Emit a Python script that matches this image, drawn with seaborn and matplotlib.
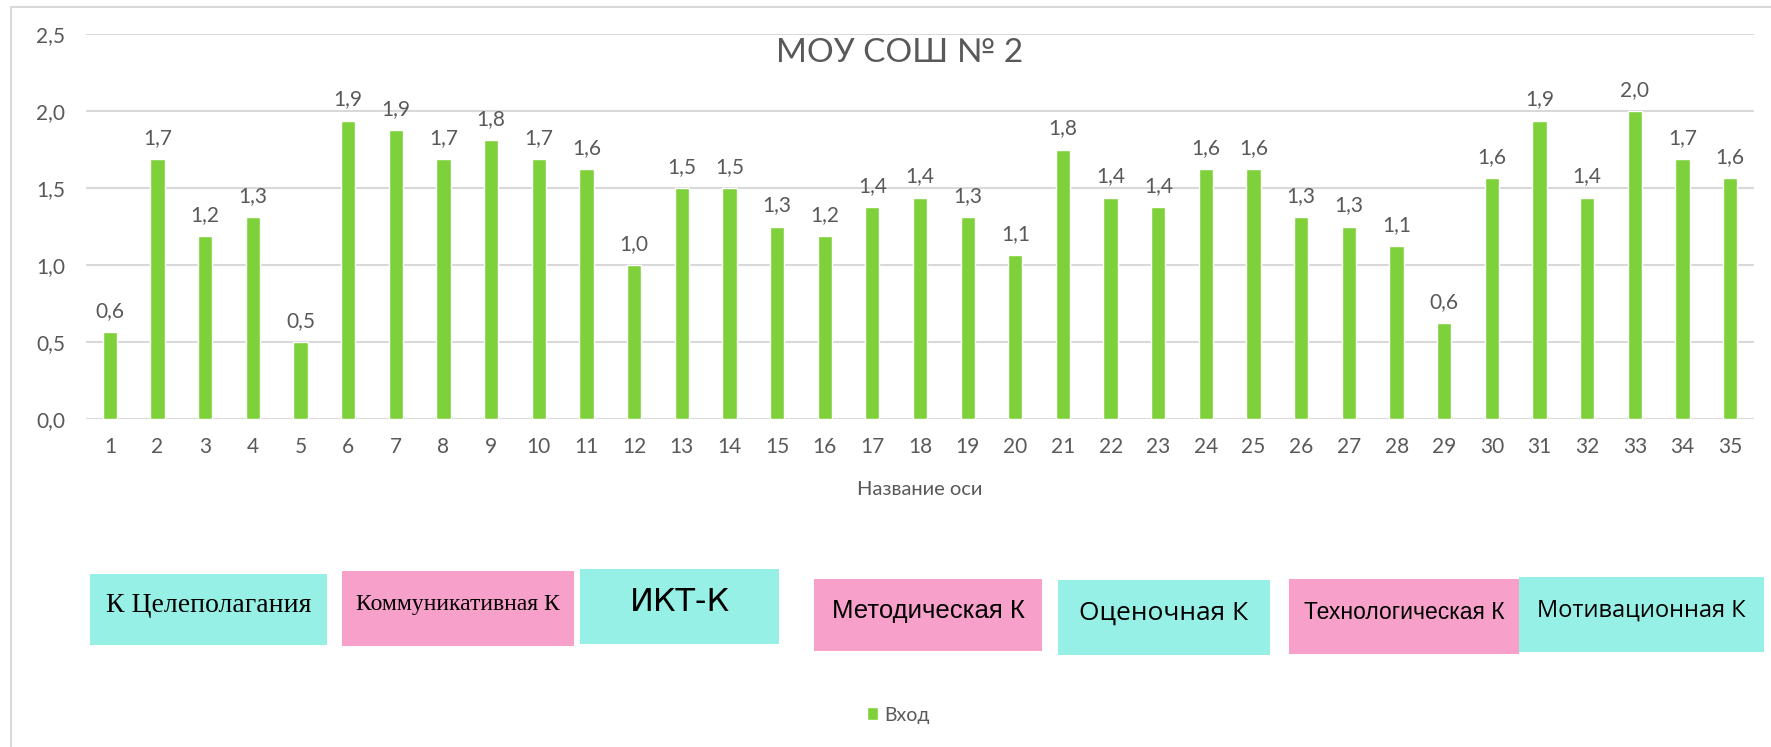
"""МОУ СОШ № 2 -- bar chart with competency boxes."""

import math
import matplotlib
matplotlib.use("Agg")
import matplotlib.pyplot as plt
from matplotlib.patches import Rectangle
from matplotlib.ticker import FuncFormatter, MultipleLocator
import seaborn as sns

# Data
items = [str(i) for i in range(1, 36)]
values = [0.5625, 1.6875, 1.1875, 1.3125, 0.5, 1.9375, 1.875, 1.6875, 1.8125, 1.6875,
          1.625, 1.0, 1.5, 1.5, 1.25, 1.1875, 1.375, 1.4375, 1.3125, 1.0625,
          1.75, 1.4375, 1.375, 1.625, 1.625, 1.3125, 1.25, 1.125, 0.625, 1.5625,
          1.9375, 1.4375, 2.0, 1.6875, 1.5625]
series_name = 'Вход'
title = 'МОУ СОШ № 2'
x_title = 'Название оси'
box_labels = ['К Целеполагания', 'Коммуникативная К', 'ИКТ-К', 'Методическая К',
              'Оценочная К', 'Технологическая К', 'Мотивационная К']

# Style
sns.set_style("white")
plt.rcParams['font.family'] = ['Lato', 'DejaVu Sans']
TEXT = '#595959'
GRID = '#D9D9D9'
GREEN = '#7FD13B'
CYAN = '#96F0E6'
PINK = '#F7A1CA'

W, H = 1771, 747
fig = plt.figure(figsize=(W / 100, H / 100), dpi=100)


def fx(x):
    return x / W


def fy(y):
    return 1 - y / H


# chart frame (left and top edges visible)
fig.patches.append(Rectangle((fx(11), fy(760)), 1.2, fy(7) - fy(760),
                             transform=fig.transFigure, fill=False,
                             edgecolor=GRID, linewidth=1.5))

ax = fig.add_axes([fx(86), fy(419), fx(1754) - fx(86), fy(34) - fy(419)])
sns.barplot(x=items, y=values, color=GREEN, saturation=1, width=0.3,
            label=series_name, ax=ax, errorbar=None)
handles, labels = ax.get_legend_handles_labels()
if ax.get_legend() is not None:
    ax.get_legend().remove()

ax.set_ylim(0, 2.5)
ax.set_xlim(-0.5, len(items) - 0.5)
ax.yaxis.set_major_locator(MultipleLocator(0.5))
ax.yaxis.set_major_formatter(FuncFormatter(lambda v, _: f"{v:.1f}".replace('.', ',')))
ax.grid(axis='y', color=GRID, linewidth=1.5)
ax.set_axisbelow(True)
sns.despine(ax=ax, left=True, bottom=True)
ax.tick_params(axis='both', length=0, labelsize=15, labelcolor=TEXT)
ax.tick_params(axis='y', pad=15)
ax.tick_params(axis='x', pad=13)
ax.set_ylabel('')

# value labels, rounded half up like Excel
bar_text = [f"{math.floor(v * 10 + 0.5) / 10:.1f}".replace('.', ',') for v in values]
ax.bar_label(ax.containers[0], labels=bar_text, padding=8, fontsize=15, color=TEXT)

ax.set_xlabel(x_title, fontsize=14.5, color=TEXT)
ax.xaxis.set_label_coords(0.5, (fy(489) - fy(419)) / (fy(34) - fy(419)))
ax.xaxis.label.set_va('center')

fig.text(fx(900), fy(53), title, fontsize=24, color=TEXT, ha='center', va='center')

# competency boxes
box_pos = [(90, 574, 327, 645), (342, 571, 574, 646), (580, 569, 779, 644),
           (814, 579, 1042, 651), (1058, 580, 1270, 655), (1289, 579, 1519, 654),
           (1519, 577, 1764, 652)]
box_colors = [CYAN, PINK, CYAN, PINK, CYAN, PINK, CYAN]
box_fonts = [(['Liberation Serif'], 20, 'normal'),
             (['Liberation Serif'], 17, 'normal'),
             (['DejaVu Sans'], 23, 'normal'),
             (['Liberation Sans Narrow', 'Liberation Sans'], 18.5, 'normal'),
             (['Open Sans'], 19, 'normal'),
             (['Liberation Sans Narrow', 'Liberation Sans'], 16.5, 'normal'),
             (['Open Sans'], 17, 'normal')]
for lab, (x0, y0, x1, y1), col, (fam, size, weight) in zip(box_labels, box_pos, box_colors, box_fonts):
    fig.patches.append(Rectangle((fx(x0), fy(y1)), fx(x1) - fx(x0), fy(y0) - fy(y1),
                                 transform=fig.transFigure, facecolor=col, edgecolor='none'))
    fig.text(fx((x0 + x1) / 2), fy((y0 + y1) / 2 - 4), lab, family=fam, fontsize=size,
             fontweight=weight, color='black', ha='center', va='center')

fig.legend(handles, labels, loc='center', bbox_to_anchor=(fx(898), fy(715)),
           frameon=False, fontsize=14, labelcolor=TEXT,
           handlelength=0.6, handleheight=0.6, handletextpad=0.3)

plt.savefig('out.png', dpi=100)
plt.close()
